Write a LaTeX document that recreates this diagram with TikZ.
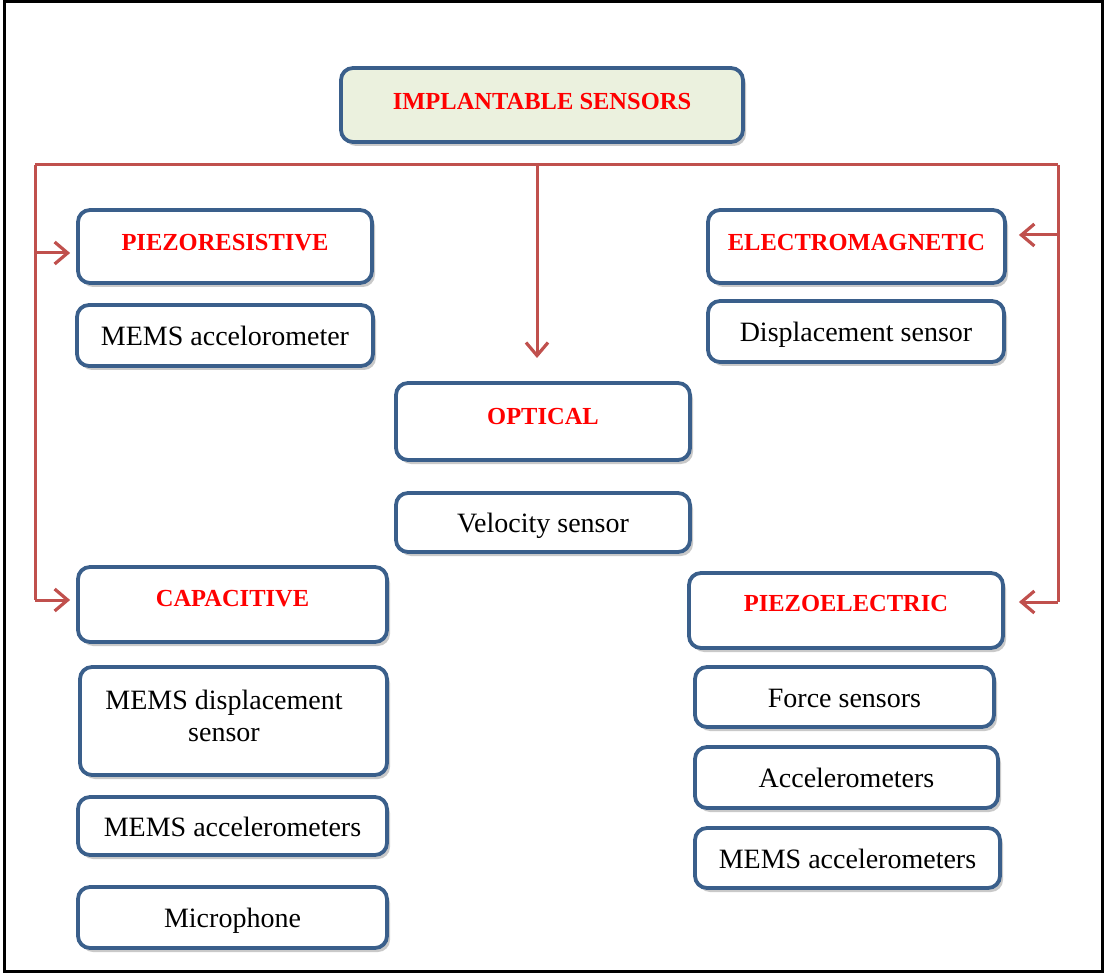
\documentclass[tikz,border=0pt]{standalone}
\usepackage{fontspec}
\setmainfont{Liberation Serif}
\usetikzlibrary{arrows.meta,shadows,calc}
\definecolor{boxblue}{HTML}{3A5F8B}
\definecolor{connred}{HTML}{C0504D}
\definecolor{topfill}{HTML}{EBF1DE}
\definecolor{titlered}{HTML}{FF0000}
\tikzset{
  box/.style={draw=boxblue, line width=3.8pt, rounded corners=12pt, fill=white, inner sep=0pt,
    drop shadow={shadow xshift=3pt, shadow yshift=-4pt, opacity=0.3, fill=black!70}},
  titlebox/.style={box, text=titlered, font=\fontsize{24.5}{29}\selectfont\bfseries,
    text height=7.2pt, text depth=0pt},
  itembox/.style={box, text=black, font=\fontsize{28}{32}\selectfont,
    text height=26pt, text depth=6pt},
  conn/.style={draw=connred, line width=3pt},
  arr/.style={conn, -{Straight Barb[length=13pt,width=22pt,line width=3.2pt]}}
}
\begin{document}
\begin{tikzpicture}[x=1pt,y=-1pt]
\useasboundingbox (0,0) rectangle (1106,973);
\draw[line width=3pt] (4.5,2) rectangle (1102.5,971.5);

% top
\node[titlebox, fill=topfill, minimum width=402pt, minimum height=74pt, text height=8.2pt] (top) at (542,105) {IMPLANTABLE SENSORS};

% piezoresistive column
\node[titlebox, minimum width=294pt, minimum height=73pt] (pr) at (225,246.5) {PIEZORESISTIVE};
\node[itembox, minimum width=296pt, minimum height=61pt] (pra) at (225,335.5) {MEMS accelorometer};

% electromagnetic
\node[titlebox, minimum width=297pt, minimum height=73pt] (em) at (856.5,246.5) {ELECTROMAGNETIC};
\node[itembox, minimum width=296pt, minimum height=61pt] (ems) at (856,331.5) {Displacement sensor};

% optical
\node[titlebox, minimum width=294pt, minimum height=77pt, text height=5.2pt] (op) at (543,421.5) {OPTICAL};
\node[itembox, minimum width=294pt, minimum height=59pt] (ops) at (543,522.5) {Velocity sensor};

% capacitive
\node[titlebox, minimum width=309pt, minimum height=75pt, text height=3.2pt] (cap) at (232.5,604.5) {CAPACITIVE};
\node[box, minimum width=307pt, minimum height=108pt] (cd) at (233.5,721) {};
\node[font=\fontsize{28}{32}\selectfont, align=center, inner sep=0pt] (cdt) at (224,716) {MEMS displacement\\sensor};
\node[itembox, minimum width=309pt, minimum height=58pt] (ca) at (232.5,826) {MEMS accelerometers};
\node[itembox, minimum width=309pt, minimum height=61pt] (cm) at (232.5,917.5) {Microphone};

% piezoelectric
\node[titlebox, minimum width=314pt, minimum height=75pt, text height=1.2pt] (pe) at (846,610.5) {PIEZOELECTRIC};
\node[itembox, minimum width=299pt, minimum height=60pt] (pf) at (844.5,697) {Force sensors};
\node[itembox, minimum width=303pt, minimum height=61pt] (pa) at (846.5,777.5) {Accelerometers};
\node[itembox, minimum width=305pt, minimum height=60pt] (pm) at (847.5,858) {MEMS accelerometers};

% connectors
\coordinate (tl) at (35,165);
\coordinate (tr) at (1058,165);
\coordinate (tc) at (537,165);
\coordinate (cdown) at (537,358);
\coordinate (l1) at (35,253);
\coordinate (l2) at (35,600);
\coordinate (r1) at (1058,235);
\coordinate (r2) at (1058,602);

\draw[conn] (tl) -- (tr);
\draw[conn] (tl) -- (l2);
\draw[conn] (tr) -- (r2);
\draw[arr] (tc) -- (cdown);
\draw[arr, shorten >=6pt] (l1) -- (l1 -| pr.west);
\draw[arr, shorten >=6pt] (l2) -- (l2 -| cap.west);
\draw[arr, shorten >=12pt] (r1) -- (r1 -| em.east);
\draw[arr, shorten >=14pt] (r2) -- (r2 -| pe.east);
\end{tikzpicture}
\end{document}
